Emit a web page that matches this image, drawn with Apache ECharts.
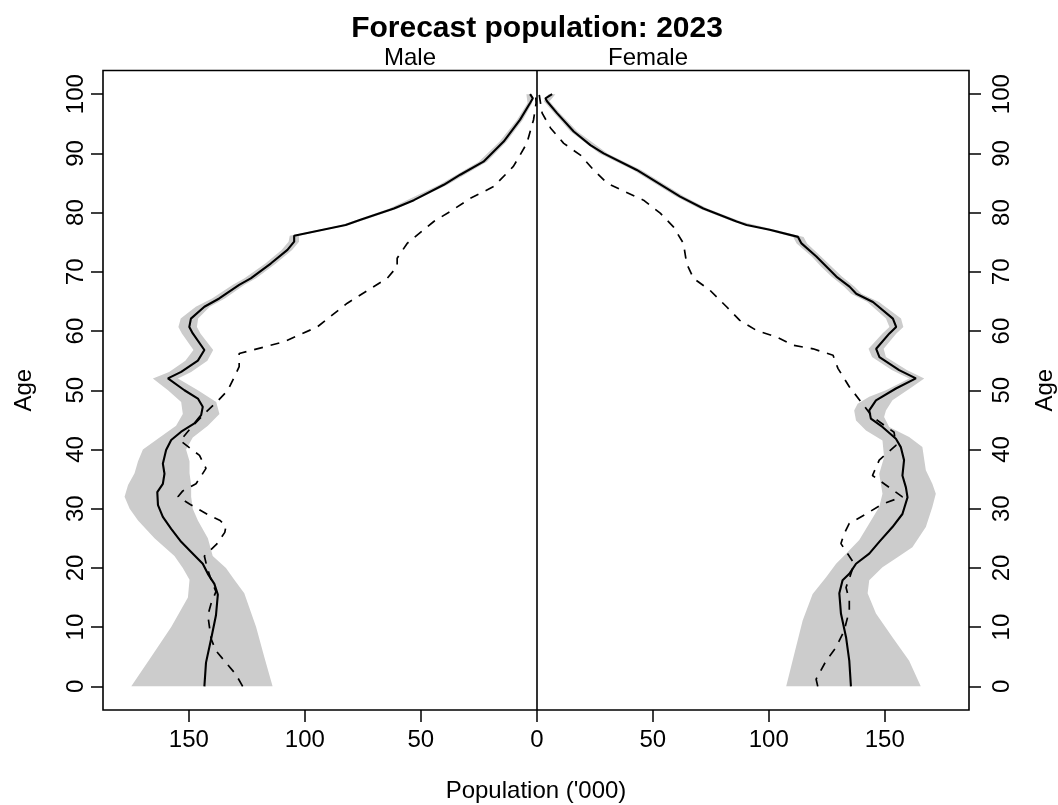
<!DOCTYPE html>
<html>
<head>
<meta charset="utf-8">
<script src="https://cdn.jsdelivr.net/npm/echarts@6/dist/echarts.min.js"></script>
<style>
  html, body { margin: 0; padding: 0; background: #fff; }
  #chart { width: 1058px; height: 805px; }
</style>
</head>
<body>
<div id="chart"></div>
<script>
// ---- Data: [age, population ('000)] ----
const xTicks = [-150, -100, -50, 0, 50, 100, 150];
const yTicks = [0, 10, 20, 30, 40, 50, 60, 70, 80, 90, 100];

const maleMean = [[0,143.3],[4,142.6],[8,140.4],[12,138.3],[15.5,137.5],[17.3,139.0],[19,141.8],[20.7,144.0],[22.7,149.0],[24.4,153.3],[26.6,157.6],[28.6,161.2],[30.6,163.3],[32.8,163.6],[34.2,161.2],[35.9,160.5],[37.6,161.2],[39.9,159.8],[41.6,157.6],[43,153.3],[44.4,147.6],[45.8,144.7],[47.2,144.0],[48.6,146.1],[50,151.9],[52,159.0],[53.1,153.3],[55,146.1],[56.8,143.3],[59.6,148.3],[60.7,149.8],[62.1,149.1],[64.1,143.3],[65.5,136.9],[67.8,128.3],[68.9,123.3],[71.4,114.7],[73.7,107.5],[75.1,104.6],[76.1,104.6],[77.9,82.4],[78.8,76.0],[80.7,61.6],[82.1,53.0],[84.7,40.1],[86.4,33.0],[88.6,23.0],[92,14.3],[95.7,7.2],[98.5,2.9],[99.3,1.7],[100,2.9]];

const maleBase = [[0,126.8],[2,129.7],[4,134.0],[6,138.3],[8,140.4],[10,141.1],[12,141.8],[14,140.4],[16,138.3],[18,140.4],[20,142.1],[22,143.3],[24,138.0],[26,134.5],[27,134.0],[28,136.5],[29,141.8],[30.8,149.7],[32,154.7],[33,152.6],[34.2,146.9],[36.8,142.6],[39,145.4],[41.5,153.7],[44,148.3],[46.3,142.6],[48.2,137.5],[50,133.2],[52,130.7],[54,128.3],[56.2,128.3],[58.2,108.9],[60.7,94.6],[64.7,81.7],[68.9,64.5],[70.9,60.2],[72.3,60.2],[74.8,55.9],[78.5,44.4],[80.2,37.3],[82.4,28.7],[84.4,18.6],[87.8,10.1],[91.7,4.3],[95.7,1.4],[98.5,0.3],[100,0.5]];

const maleUpper = [[0,174.8],[5,166.2],[10,157.6],[15,150.4],[18,149.7],[20,152.6],[22,156.2],[25,164.8],[28,171.9],[30,175.5],[32,177.7],[34,176.2],[36,173.4],[38,171.9],[40,169.8],[42,162.6],[44,155.5],[46,152.6],[48,153.3],[50,159.0],[52,165.5],[53.1,158.5],[55,151.5],[56.8,148.0],[59.6,153.0],[60.7,154.5],[62.1,153.5],[64.1,147.0],[65.5,140.0],[67.8,131.0],[68.9,126.0],[71.4,117.0],[73.7,110.0],[75.1,107.0],[76.1,106.5],[77.9,84.0],[80.7,63.5],[84.7,42.0],[88.6,25.0],[92,16.0],[95.7,8.5],[98.5,4.0],[100,4.5]];

const maleLower = [[0,113.9],[5,117.5],[10,121.0],[15.7,126.1],[18,130.4],[20,134.0],[22,139.7],[25,141.8],[28,146.1],[30,148.3],[32,149.0],[34,149.0],[36,149.7],[38,149.7],[40,151.2],[42,148.3],[44,141.8],[46,136.8],[48,138.2],[50,146.1],[52,154.7],[53.1,149.0],[55,142.0],[56.8,139.5],[59.6,145.0],[60.7,146.5],[62.1,146.0],[64.1,141.0],[65.5,134.5],[67.8,126.0],[68.9,121.0],[71.4,112.5],[73.7,105.5],[75.1,102.5],[76.1,102.5],[77.9,81.0],[80.7,60.0],[84.7,38.5],[88.6,21.5],[92,13.0],[95.7,6.0],[98.5,2.0],[100,2.0]];

const femaleMean = [[0,135.4],[4.3,134.7],[8.3,133.3],[12.3,131.1],[15.7,130.4],[17.9,131.8],[19,134.7],[20.7,137.6],[22.4,143.3],[24.4,147.6],[26.9,153.3],[29.1,157.6],[31.9,159.8],[33.6,159.1],[35.6,157.6],[38.2,158.3],[40.4,156.9],[41.8,154.8],[43.8,149.0],[45.2,144.0],[46.6,143.3],[48.3,146.2],[50.3,154.8],[52,163.4],[53.4,156.2],[55.6,147.7],[57,146.3],[59.6,152.0],[60.7,154.9],[62.1,153.5],[64.9,144.9],[66.3,137.7],[67.5,134.8],[69.2,129.1],[70.9,124.8],[72.6,120.5],[74.8,114.1],[75.9,112.6],[77.1,100.4],[77.9,90.4],[78.5,86.1],[80.7,71.8],[82.7,61.8],[87.2,43.1],[90,28.8],[91.4,23.1],[93.7,15.9],[96.8,8.7],[98.8,4.4],[99.3,3.7],[100,6.6]];

const femaleBase = [[0,121.1],[1.2,120.4],[4.3,124.7],[6.6,129.0],[9.4,132.5],[12.8,134.7],[14.5,134.7],[16.7,133.3],[19,135.4],[20.7,136.8],[24.1,131.1],[25.8,132.5],[27.5,134.7],[29.1,141.9],[30.8,149.0],[32,157.6],[33.6,151.9],[35.6,144.7],[38.2,147.6],[40.7,154.8],[42.9,154.0],[45.5,144.7],[47.7,140.4],[50.6,134.7],[53.7,129.8],[55.9,127.7],[57,119.1],[57.6,110.5],[59,103.3],[60.1,94.7],[61.8,87.5],[64.1,81.8],[66.9,74.6],[68.9,67.5],[71.4,64.6],[74.8,63.2],[77.6,58.9],[79.9,53.2],[82.1,46.0],[83.5,38.1],[85,30.2],[87.2,24.5],[89.7,18.8],[91.7,11.6],[94.3,5.9],[96.8,2.3],[98.5,1.6],[100,1.0]];

const femaleLower = [[0,107.5],[5.5,111.0],[11.1,114.6],[15.6,118.9],[18.4,124.7],[20.7,129.0],[22.4,133.3],[24.7,139.0],[27.5,143.3],[30.3,147.6],[32.5,149.0],[35.9,147.6],[38.7,149.7],[41.5,149.0],[43.2,141.9],[44.9,137.6],[46.6,136.8],[47.7,138.3],[48.9,143.3],[50,150.5],[52,160.5],[53.4,153.0],[55.6,144.5],[57,143.0],[59.6,149.0],[60.7,152.0],[62.1,150.5],[64.9,142.5],[66.3,135.5],[67.5,132.5],[69.2,127.0],[70.9,122.5],[72.6,118.5],[74.8,112.0],[75.9,110.5],[77.1,98.5],[78.5,84.5],[80.7,70.0],[82.7,60.0],[87.2,41.5],[90,27.0],[93.7,14.5],[96.8,7.5],[98.8,3.0],[100,5.0]];

const femaleUpper = [[0,165.5],[4.3,160.5],[8.3,153.3],[12.3,146.2],[15.7,142.6],[17.9,143.3],[20.1,149.0],[21.8,155.5],[23.5,161.9],[26.9,167.7],[30.3,170.5],[32.5,172.0],[34.2,170.5],[36.5,167.7],[40.4,166.2],[42.1,160.5],[43.8,151.9],[45.5,149.7],[46.6,150.5],[48.3,153.3],[50.6,161.9],[52,167.0],[53.4,159.5],[55.6,150.5],[57,149.5],[59.6,155.0],[60.7,158.0],[62.1,157.0],[64.9,147.5],[66.3,140.0],[67.5,137.0],[69.2,131.5],[70.9,127.0],[72.6,122.5],[74.8,116.5],[75.9,115.0],[77.1,102.5],[78.5,88.0],[80.7,73.5],[82.7,63.5],[87.2,45.0],[90,30.5],[93.7,17.5],[96.8,10.0],[98.8,5.5],[100,8.0]];

// ---- Build plotting data ([x, age]; male drawn on the negative side) ----
const toXY = (arr, sign) => arr.map(d => [sign * d[1], d[0]]);
const bandPoly = (upper, lower, sign) =>
  toXY(upper, sign).concat(toXY(lower, sign).reverse());

const malePoly = bandPoly(maleUpper, maleLower, -1);
const femalePoly = bandPoly(femaleUpper, femaleLower, 1);

const FONT = 'Liberation Sans, Arial, Helvetica, sans-serif';

function bandSeries(poly) {
  return {
    type: 'custom',
    coordinateSystem: 'cartesian2d',
    silent: true,
    z: 1,
    clip: true,
    data: poly,
    encode: { x: 0, y: 1 },
    renderItem: function (params, api) {
      if (params.dataIndex !== 0) return null;
      const pts = poly.map(p => api.coord(p));
      return { type: 'polygon', shape: { points: pts }, style: { fill: '#cccccc', stroke: null } };
    }
  };
}

function lineSeries(data, dashed) {
  return {
    type: 'line',
    data: data,
    showSymbol: false,
    symbol: 'none',
    silent: true,
    z: 3,
    lineStyle: dashed
      ? { color: '#000', width: 1.7, type: [9, 8] }
      : { color: '#000', width: 2.1 },
    animation: false
  };
}

const yAxisCommon = {
  type: 'value', min: -4, max: 104,
  splitLine: { show: false },
  axisLine: { show: false, onZero: false },
  axisTick: { show: true, inside: false, length: 12, customValues: yTicks, lineStyle: { color: '#000', width: 1.5 } },
  name: 'Age', nameLocation: 'middle',
  nameTextStyle: { color: '#000', fontSize: 24, fontFamily: FONT }
};
const yLabel = (margin) => ({ customValues: yTicks, rotate: 90, margin: margin, color: '#000', fontSize: 24, fontFamily: FONT });

const option = {
  animation: false,
  backgroundColor: '#fff',
  title: [
    { text: 'Forecast population: 2023', left: 537, top: 14, textAlign: 'center', padding: 0,
      textStyle: { fontSize: 30, fontWeight: 'bold', color: '#000', fontFamily: FONT } },
    { text: 'Male', left: 410, top: 46, textAlign: 'center', padding: 0,
      textStyle: { fontSize: 24, fontWeight: 'normal', color: '#000', fontFamily: FONT } },
    { text: 'Female', left: 648, top: 46, textAlign: 'center', padding: 0,
      textStyle: { fontSize: 24, fontWeight: 'normal', color: '#000', fontFamily: FONT } }
  ],
  grid: { left: 103, right: 89, top: 70.5, bottom: 95, show: true, borderColor: '#000', borderWidth: 1.6,
    backgroundColor: 'transparent', outerBoundsMode: 'none', containLabel: false },
  xAxis: {
    type: 'value', min: -187, max: 186.3,
    splitLine: { show: false },
    axisLine: { show: false, onZero: false },
    axisTick: { show: true, inside: false, length: 12, customValues: xTicks, lineStyle: { color: '#000', width: 1.5 } },
    axisLabel: { customValues: xTicks, margin: 18, color: '#000', fontSize: 24, fontFamily: FONT,
      formatter: v => String(Math.abs(v)) },
    name: "Population ('000)", nameLocation: 'middle', nameGap: 69,
    nameTextStyle: { color: '#000', fontSize: 24, fontFamily: FONT }
  },
  yAxis: [
    Object.assign({}, yAxisCommon, { position: 'left', nameGap: 67, axisLabel: yLabel(15) }),
    Object.assign({}, yAxisCommon, { position: 'right', nameGap: 64, axisLabel: yLabel(21) })
  ],
  series: [
    bandSeries(malePoly),
    bandSeries(femalePoly),
    lineSeries(toXY(maleBase, -1), true),
    lineSeries(toXY(femaleBase, 1), true),
    lineSeries(toXY(maleMean, -1), false),
    Object.assign(lineSeries(toXY(femaleMean, 1), false), {
      markLine: {
        silent: true, symbol: 'none', label: { show: false },
        lineStyle: { color: '#000', width: 1.6, type: 'solid' },
        data: [{ xAxis: 0 }]
      }
    })
  ]
};

const chart = echarts.init(document.getElementById('chart'), null, { renderer: 'canvas' });
chart.setOption(option);
</script>
</body>
</html>
